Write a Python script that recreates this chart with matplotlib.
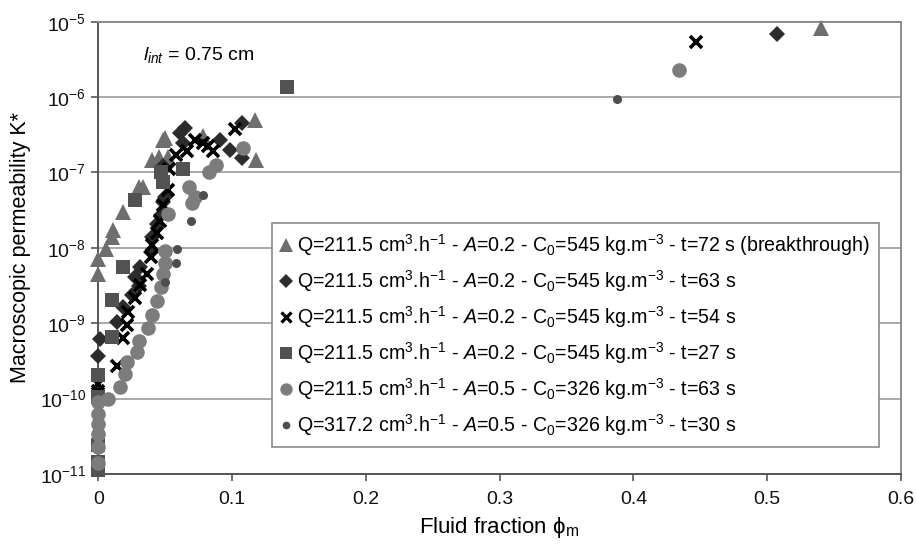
import matplotlib
matplotlib.use("Agg")
import matplotlib.pyplot as plt
from matplotlib.lines import Line2D

plt.rcParams['font.family'] = ['Liberation Sans', 'DejaVu Sans']
plt.rcParams['mathtext.fontset'] = 'custom'
plt.rcParams['mathtext.rm'] = 'Liberation Sans'
plt.rcParams['mathtext.it'] = 'Liberation Sans:italic'
plt.rcParams['mathtext.bf'] = 'Liberation Sans:bold'
plt.rcParams['mathtext.sf'] = 'Liberation Sans'

# ---- data: (fluid fraction, log10 K*) ----
tri_phi = [0.0, 0.0, 0.006, 0.010, 0.011, 0.018, 0.030, 0.033, 0.040, 0.048, 0.052, 0.050, 0.045, 0.078, 0.117, 0.118]
tri_logk = [-8.15, -8.35, -8.02, -7.86, -7.76, -7.52, -7.19, -7.19, -6.83, -6.57, -6.79, -6.54, -6.80, -6.52, -6.30, -6.83]
tri_far_phi = [0.540]
tri_far_logk = [-5.08]

dia_phi = [0.0, 0.001, 0.014, 0.018, 0.025, 0.030, 0.027, 0.031, 0.039, 0.040, 0.044, 0.047, 0.048, 0.050, 0.048,
           0.061, 0.063, 0.065, 0.091, 0.098, 0.107, 0.107, 0.507]
dia_logk = [-9.43, -9.21, -8.99, -8.79, -8.62, -8.50, -8.39, -8.26, -8.06, -7.85, -7.69, -7.56, -7.39, -7.32, -6.92,
            -6.47, -6.61, -6.41, -6.57, -6.70, -6.81, -6.34, -5.16]

x_phi = [0.0, 0.0, 0.014, 0.018, 0.021, 0.022, 0.027, 0.031, 0.036, 0.039, 0.040, 0.044, 0.046, 0.048, 0.052, 0.053,
         0.058, 0.066, 0.072, 0.078, 0.082, 0.086, 0.102, 0.447]
x_logk = [-9.81, -9.90, -9.57, -9.19, -9.02, -8.85, -8.66, -8.49, -8.35, -8.12, -7.96, -7.80, -7.65, -7.43, -7.23, -6.96,
          -6.77, -6.72, -6.57, -6.61, -6.65, -6.72, -6.43, -5.27]

sq_phi = [0.0, 0.0, 0.0, 0.0, 0.0, 0.010, 0.010, 0.018, 0.027, 0.047, 0.048, 0.063, 0.141]
sq_logk = [-9.69, -9.98, -10.62, -10.84, -10.95, -9.18, -8.69, -8.26, -7.36, -6.99, -7.12, -6.96, -5.86]

cir_phi = [0.0, 0.0, 0.0, 0.0, 0.0, 0.0, 0.007, 0.016, 0.020, 0.021, 0.029, 0.030, 0.037, 0.040, 0.044, 0.047,
           0.048, 0.050, 0.050, 0.052, 0.070, 0.072, 0.068, 0.083, 0.088, 0.108, 0.434]
cir_logk = [-10.04, -10.20, -10.34, -10.47, -10.64, -10.86, -10.01, -9.85, -9.67, -9.51, -9.38, -9.23, -9.06, -8.89,
            -8.71, -8.52, -8.35, -8.20, -8.04, -7.55, -7.41, -7.32, -7.19, -6.99, -6.90, -6.67, -5.64]

dot_phi = [0.078, 0.069, 0.059, 0.058, 0.050, 0.388]
dot_logk = [-7.30, -7.65, -8.02, -8.20, -8.45, -6.03]

labels = [
    r"Q=211.5 cm$^3$.h$^{-1}$ - $A$=0.2 - C$_0$=545 kg.m$^{-3}$ - t=72 s (breakthrough)",
    r"Q=211.5 cm$^3$.h$^{-1}$ - $A$=0.2 - C$_0$=545 kg.m$^{-3}$ - t=63 s",
    r"Q=211.5 cm$^3$.h$^{-1}$ - $A$=0.2 - C$_0$=545 kg.m$^{-3}$ - t=54 s",
    r"Q=211.5 cm$^3$.h$^{-1}$ - $A$=0.2 - C$_0$=545 kg.m$^{-3}$ - t=27 s",
    r"Q=211.5 cm$^3$.h$^{-1}$ - $A$=0.5 - C$_0$=326 kg.m$^{-3}$ - t=63 s",
    r"Q=317.2 cm$^3$.h$^{-1}$ - $A$=0.5 - C$_0$=326 kg.m$^{-3}$ - t=30 s",
]

x_ticks = [0, 0.1, 0.2, 0.3, 0.4, 0.5, 0.6]
x_ticklabels = ["0", "0.1", "0.2", "0.3", "0.4", "0.5", "0.6"]

fig = plt.figure(figsize=(9.16, 5.49), dpi=100)
ax = fig.add_axes([0.1075, 0.1366, 0.8761, 0.8239])

def p10(v):
    return [10 ** a for a in v]

styles = [
    dict(marker='^', color='#6e6e6e', ms=11.5, mew=0),
    dict(marker='D', color='#2c2c2c', ms=8.5, mew=0),
    dict(marker='x', color='#000000', ms=8.5, mew=2.6),
    dict(marker='s', color='#525252', ms=9.5, mew=0),
    dict(marker='o', color='#7c7c7c', ms=10.5, mew=0),
    dict(marker='o', color='#4e4e4e', ms=6.5, mew=0),
]
series = [
    (tri_phi + tri_far_phi, tri_logk + tri_far_logk),
    (dia_phi, dia_logk),
    (x_phi, x_logk),
    (sq_phi, sq_logk),
    (cir_phi, cir_logk),
    (dot_phi, dot_logk),
]
handles = []
for (px, pk), st, lab in zip(series, styles, labels):
    ax.plot(px, p10(pk), linestyle='none', marker=st['marker'], color=st['color'],
            markersize=st['ms'], markeredgewidth=st['mew'], clip_on=False, zorder=3)
    handles.append(Line2D([], [], linestyle='none', marker=st['marker'], color=st['color'],
                          markersize=st['ms'] * 0.85, markeredgewidth=st['mew'] * 0.9, label=lab))

ax.set_yscale('log')
ax.set_xlim(0, 0.6)
ax.set_ylim(1e-11, 1e-5)
ax.set_xticks(x_ticks)
ax.set_xticklabels(x_ticklabels)
ax.minorticks_off()
ax.yaxis.set_minor_locator(matplotlib.ticker.NullLocator())
ax.grid(axis='y', which='major', color='#a8a8a8', linewidth=1.4)
ax.set_axisbelow(True)

for side in ['top', 'right']:
    ax.spines[side].set_color('#8c8c8c')
    ax.spines[side].set_linewidth(1.4)
for side in ['left', 'bottom']:
    ax.spines[side].set_color('#555555')
    ax.spines[side].set_linewidth(1.4)

ax.tick_params(axis='both', direction='out', length=5, width=1.2, color='#555555',
               labelcolor='#111111')
ax.tick_params(axis='x', pad=7, labelsize=14)
ax.tick_params(axis='y', pad=4, labelsize=14)

ax.xaxis.label.set_visible(False)
fig.text(0.5448, 1 - 527 / 549, "Fluid fraction \u03d5$_\\mathrm{m}$", fontsize=16,
         ha='center', va='center')
ax.set_ylabel("Macroscopic permeability K*", fontsize=15.5, labelpad=6)

ax.text(0.055, 0.926, r"$\mathit{l}_{int}$ = 0.75 cm", transform=ax.transAxes, fontsize=14,
        va='center', ha='left')

leg = ax.legend(handles=handles, loc='lower left', bbox_to_anchor=(0.216, 0.060), fontsize=14.1,
                frameon=True, fancybox=False, edgecolor='#8a8a8a', framealpha=1,
                handlelength=0.6, handletextpad=0.25, labelspacing=0.52, borderpad=0.45,
                borderaxespad=0)
leg.get_frame().set_linewidth(1.2)
leg.set_zorder(5)

fig.savefig("out.png", dpi=100)
